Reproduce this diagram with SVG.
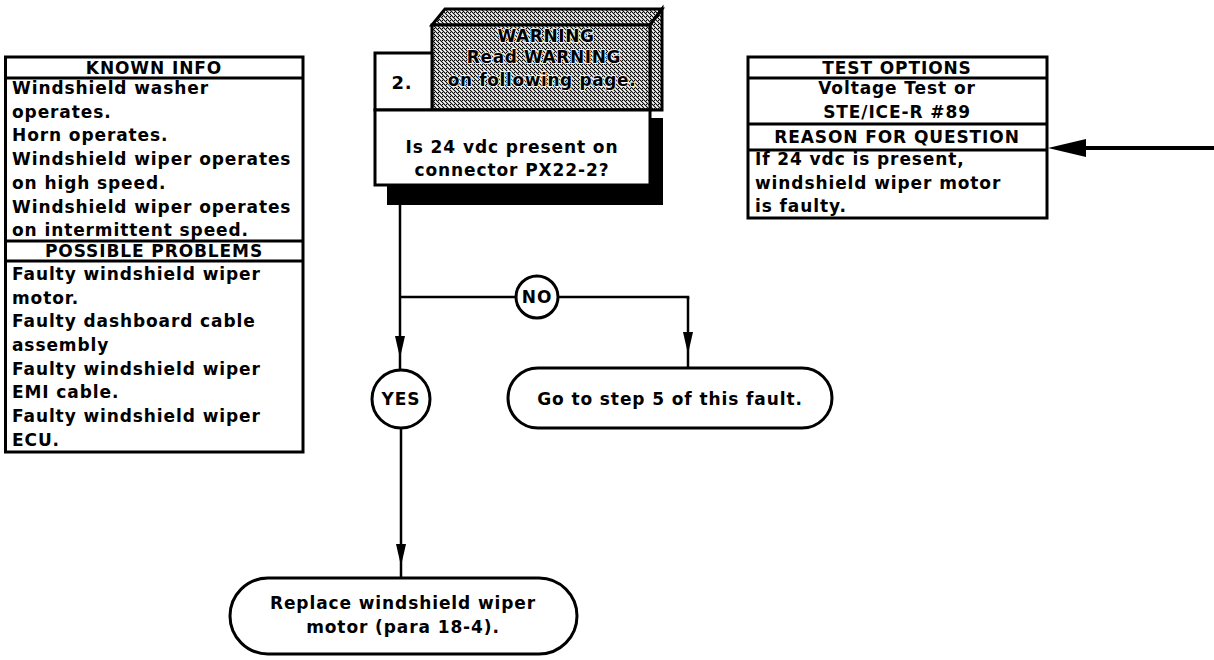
<svg xmlns="http://www.w3.org/2000/svg" width="1214" height="660" viewBox="0 0 1214 660">
  <style>
    .t { font-family: "DejaVu Sans", "Liberation Sans", sans-serif; font-weight: bold; font-size: 17px; fill: #000; letter-spacing: 0.9px; }
    .c { text-anchor: middle; }
    .box { fill: #fff; stroke: #000; stroke-width: 3; }
    .rule { stroke: #000; stroke-width: 3; }
    .wire { fill: none; stroke: #000; stroke-width: 2.5; }
    .warn { font-family: "DejaVu Sans", "Liberation Sans", sans-serif; font-weight: bold; font-size: 17px; fill: #000; stroke: #fff; stroke-width: 1.5px; paint-order: stroke; letter-spacing: 0.6px; text-anchor: middle; }
  </style>
  <defs>
    <pattern id="hatch" width="4" height="4" patternUnits="userSpaceOnUse">
      <rect width="4" height="4" fill="#fff"/>
      <path d="M-1,-1 L5,5 M-1,3 L1,5 M3,-1 L5,1" stroke="#000" stroke-width="1.1"/>
      <rect x="2" y="0" width="1" height="1" fill="#000"/>
    </pattern>
    <marker id="arr" markerUnits="userSpaceOnUse" markerWidth="30" markerHeight="14" viewBox="-24 -7 26 14" refX="0" refY="0" orient="auto">
      <path d="M0,0 L-22,-5 L-22,5 Z" fill="#000"/>
    </marker>
  </defs>

  <!-- KNOWN INFO / POSSIBLE PROBLEMS panel -->
  <g id="known-info">
    <rect class="box" x="5.5" y="57" width="297.5" height="395"/>
    <line class="rule" x1="5.5" y1="78" x2="303" y2="78"/>
    <line class="rule" x1="5.5" y1="241" x2="303" y2="241"/>
    <line class="rule" x1="5.5" y1="261" x2="303" y2="261"/>
    <text class="t c" x="154" y="74">KNOWN INFO</text>
    <text class="t" x="12" y="94">Windshield washer</text>
    <text class="t" x="12" y="118">operates.</text>
    <text class="t" x="12" y="141">Horn operates.</text>
    <text class="t" x="12" y="165">Windshield wiper operates</text>
    <text class="t" x="12" y="189">on high speed.</text>
    <text class="t" x="12" y="213">Windshield wiper operates</text>
    <text class="t" x="12" y="236">on intermittent speed.</text>
    <text class="t c" x="154" y="257">POSSIBLE PROBLEMS</text>
    <text class="t" x="12" y="280">Faulty windshield wiper</text>
    <text class="t" x="12" y="304">motor.</text>
    <text class="t" x="12" y="327">Faulty dashboard cable</text>
    <text class="t" x="12" y="351">assembly</text>
    <text class="t" x="12" y="375">Faulty windshield wiper</text>
    <text class="t" x="12" y="398">EMI cable.</text>
    <text class="t" x="12" y="422">Faulty windshield wiper</text>
    <text class="t" x="12" y="446">ECU.</text>
  </g>

  <!-- TEST OPTIONS / REASON FOR QUESTION panel -->
  <g id="test-options">
    <rect class="box" x="748" y="57" width="299" height="161"/>
    <line class="rule" x1="748" y1="78" x2="1047" y2="78"/>
    <line class="rule" x1="748" y1="124" x2="1047" y2="124"/>
    <line class="rule" x1="748" y1="150" x2="1047" y2="150"/>
    <text class="t c" x="897" y="74">TEST OPTIONS</text>
    <text class="t c" x="897" y="94">Voltage Test or</text>
    <text class="t c" x="897" y="118">STE/ICE-R #89</text>
    <text class="t c" x="897" y="143">REASON FOR QUESTION</text>
    <text class="t" x="755" y="165">If 24 vdc is present,</text>
    <text class="t" x="755" y="189">windshield wiper motor</text>
    <text class="t" x="755" y="212">is faulty.</text>
  </g>

  <!-- Step 2 question block with warning flag -->
  <g id="step-2">
    <rect x="387" y="118" width="276" height="87" fill="#000"/>
    <polygon points="432,25 445,9 662,9 650,25" fill="url(#hatch)" stroke="#000" stroke-width="3"/>
    <polygon points="650,25 662,9 662,110 650,110" fill="url(#hatch)" stroke="#000" stroke-width="3"/>
    <rect x="432" y="25" width="218" height="85" fill="url(#hatch)" stroke="#000" stroke-width="3"/>
    <text class="warn" x="546" y="42">WARNING</text>
    <text class="warn" x="544" y="63">Read WARNING</text>
    <text class="warn" x="542" y="86">on following page.</text>
    <rect class="box" x="375" y="53" width="57" height="57"/>
    <text class="t c" x="402" y="89" style="font-size:18px">2.</text>
    <rect class="box" x="375" y="110" width="275" height="75"/>
    <text class="t c" x="512" y="153">Is 24 vdc present on</text>
    <text class="t c" x="512" y="176">connector PX22-2?</text>
  </g>

  <g id="no">
    <circle class="box" cx="537" cy="297" r="21"/>
    <text class="t c" x="537" y="303">NO</text>
  </g>

  <g id="yes">
    <circle class="box" cx="401" cy="399" r="29"/>
    <text class="t c" x="401" y="405">YES</text>
  </g>

  <g id="goto-step-5">
    <rect class="box" x="508" y="368" width="324" height="60" rx="30"/>
    <text class="t c" x="670" y="405">Go to step 5 of this fault.</text>
  </g>

  <g id="replace-motor">
    <rect class="box" x="230" y="578" width="347" height="76" rx="38"/>
    <text class="t c" x="403" y="609">Replace windshield wiper</text>
    <text class="t c" x="403" y="633">motor (para 18-4).</text>
  </g>

  <!-- connectors -->
  <g id="connectors">
    <path class="wire" d="M400,205 V358 L400,370" marker-mid="url(#arr)"/>
    <path class="wire" d="M400,297 H516"/>
    <path class="wire" d="M558,297 H688 V299"/>
    <path class="wire" d="M688,297 V354 L688,368" marker-mid="url(#arr)"/>
    <path class="wire" d="M401,428 V566 L401,578" marker-mid="url(#arr)"/>
    <path d="M1214,148 H1080" stroke="#000" stroke-width="4" fill="none"/>
    <polygon points="1048,148 1086,139 1086,157" fill="#000"/>
  </g>
</svg>
